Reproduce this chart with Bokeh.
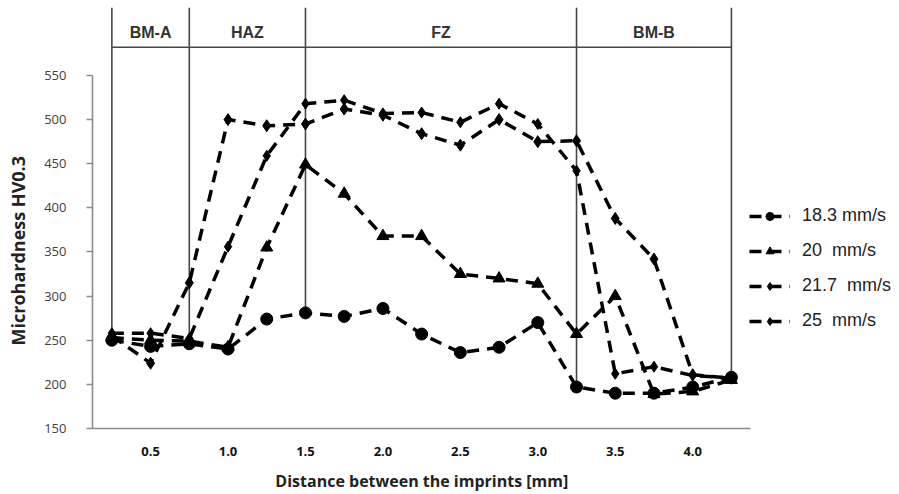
from bokeh.plotting import figure
from bokeh.models import Range1d, FixedTicker, Legend, LegendItem
from bokeh.embed import file_html
from bokeh.resources import INLINE
from bokeh.core.properties import value

# ---- data ----
distance = [0.25, 0.5, 0.75, 1.0, 1.25, 1.5, 1.75, 2.0, 2.25, 2.5, 2.75, 3.0, 3.25, 3.5, 3.75, 4.0, 4.25]
hv_18_3 = [250, 243, 246, 240, 274, 281, 277, 286, 257, 236, 242, 270, 197, 190, 190, 197, 208]
hv_20 = [253, 250, 249, 242, 355, 449, 416, 368, 368, 325, 320, 314, 257, 300, 189, 192, 205]
hv_21_7 = [258, 258, 252, 356, 459, 518, 522, 507, 508, 497, 518, 495, 442, 212, 220, 210, 207]
hv_25 = [255, 224, 315, 500, 493, 495, 512, 505, 484, 471, 500, 475, 476, 388, 342, 211, 207]
series_labels = ["18.3 mm/s", "20  mm/s", "21.7  mm/s", "25  mm/s"]

x_ticks = [0.5, 1.0, 1.5, 2.0, 2.5, 3.0, 3.5, 4.0]
x_tick_labels = ["0.5", "1.0", "1.5", "2.0", "2.5", "3.0", "3.5", "4.0"]
y_ticks = [150, 200, 250, 300, 350, 400, 450, 500, 550]

zone_names = ["BM-A", "HAZ", "FZ", "BM-B"]
zone_bounds = [0.25, 0.75, 1.5, 3.25, 4.25]

# ---- figure ----
X_LO, X_AXIS_HI, X_HI = 0.125, 4.375, 5.29
Y_LO, Y_AXIS_HI, Y_TOP = 150, 550, 627
HEADER_Y = 582
LABEL_Y = 599

p = figure(width=892, height=494,
           x_range=Range1d(X_LO, X_HI), y_range=Range1d(Y_LO, Y_TOP),
           output_backend="svg", toolbar_location=None,
           min_border_left=92, min_border_right=0,
           min_border_top=7, min_border_bottom=66)
p.background_fill_color = "white"
p.border_fill_color = "white"
p.outline_line_color = None
p.grid.visible = False

# zone boundary lines (drop to the 18.3 mm/s curve)
bound_vals = [hv_18_3[distance.index(b)] for b in zone_bounds]
p.segment(x0=zone_bounds, x1=zone_bounds, y0=bound_vals, y1=[Y_TOP] * len(zone_bounds),
          line_color="#474747", line_width=1.6)
p.segment(x0=[zone_bounds[0]], x1=[zone_bounds[-1]], y0=[HEADER_Y], y1=[HEADER_Y],
          line_color="#474747", line_width=1.6)
mids = [(a + b) / 2 for a, b in zip(zone_bounds[:-1], zone_bounds[1:])]
p.text(x=mids, y=[LABEL_Y] * len(mids), text=zone_names,
       text_align="center", text_baseline="middle",
       text_font=value("Liberation Sans"), text_font_style="bold",
       text_font_size="16px", text_color="#333333")

# series
series = [hv_18_3, hv_20, hv_21_7, hv_25]
markers = ["circle", "triangle", "diamond", "diamond"]
msizes = [12, 12, 11, 12]
items = []
for vals, lab, mk, ms in zip(series, series_labels, markers, msizes):
    l = p.line(distance, vals, line_color="black", line_width=3.5, line_dash="12 8")
    s = p.scatter(distance, vals, marker=mk, size=ms, fill_color="black", line_color="black")
    items.append(LegendItem(label=lab, renderers=[l, s]))

legend = Legend(items=items, location=(657, 97), orientation="vertical",
                glyph_width=41, glyph_height=20, label_height=20, spacing=14,
                label_standoff=12, padding=0, margin=0,
                border_line_color=None, background_fill_alpha=0,
                label_text_font="Liberation Sans", label_text_font_size="18px",
                label_text_color="#222222")
p.add_layout(legend)

# axes
xa = p.xaxis[0]
xa.ticker = FixedTicker(ticks=x_ticks)
xa.bounds = (X_LO, X_AXIS_HI)
xa.major_label_overrides = {t: s for t, s in zip(x_ticks, x_tick_labels)}
xa.major_tick_out = 0
xa.major_tick_in = 0
xa.minor_tick_out = 0
xa.minor_tick_in = 0
xa.axis_line_color = "#8c8c8c"
xa.axis_line_width = 1.6
xa.major_label_standoff = 18
xa.major_label_text_font = "Open Sans"
xa.major_label_text_font_style = "bold"
xa.major_label_text_font_size = "13px"
xa.major_label_text_color = "#111111"
# trailing no-break spaces move the visible label left, under the axis line
xa.axis_label = "Distance between the imprints [mm]" + "\u00a0" * 34
xa.axis_label_standoff = 11
xa.axis_label_text_font = "Open Sans"
xa.axis_label_text_font_style = "bold"
xa.axis_label_text_font_size = "16px"
xa.axis_label_text_color = "#222222"

ya = p.yaxis[0]
ya.ticker = FixedTicker(ticks=y_ticks)
ya.bounds = (Y_LO, Y_AXIS_HI)
ya.major_tick_out = 6
ya.major_tick_in = 0
ya.minor_tick_out = 0
ya.minor_tick_in = 0
ya.major_tick_line_color = "#8c8c8c"
ya.major_tick_line_width = 1.6
ya.axis_line_color = "#8c8c8c"
ya.axis_line_width = 1.6
ya.major_label_standoff = 20
ya.major_label_text_font = "Open Sans"
ya.major_label_text_font_size = "13px"
ya.major_label_text_color = "#404040"
# trailing no-break spaces shift the visible label down to where the reference has it
ya.axis_label = "Microhardness  HV0.3" + "\u00a0" * 13
ya.axis_label_standoff = 11
ya.axis_label_text_font = "Open Sans"
ya.axis_label_text_font_style = "bold"
ya.axis_label_text_font_size = "18px"
ya.axis_label_text_color = "#222222"

open("out.html", "w").write(file_html(p, INLINE))
